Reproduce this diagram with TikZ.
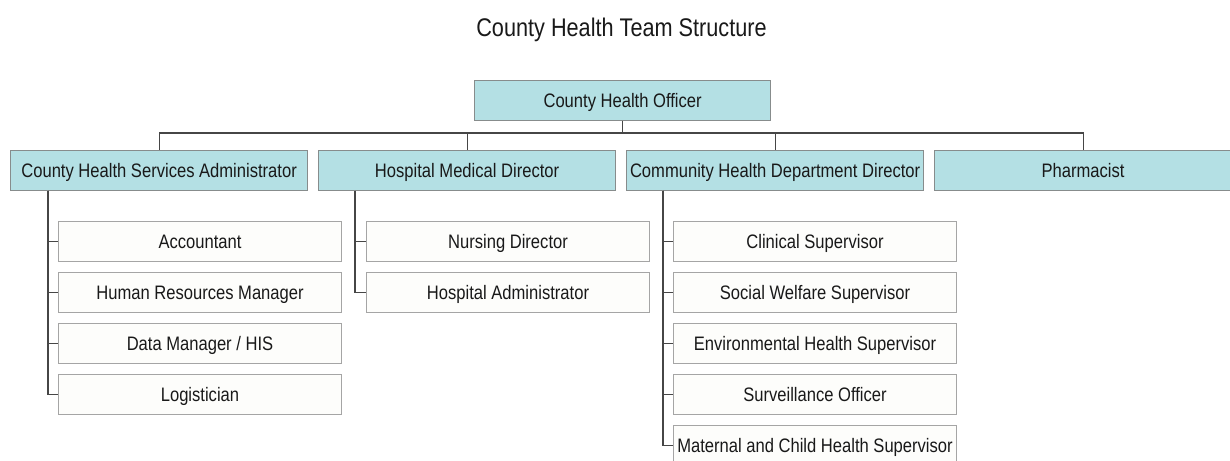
\documentclass[tikz,border=0pt]{standalone}
\usepackage{fontspec}
\setmainfont[FakeStretch=0.85]{Liberation Sans}
\definecolor{headfill}{RGB}{180,224,228}
\definecolor{headdraw}{RGB}{135,140,140}
\definecolor{subdraw}{RGB}{165,165,165}
\definecolor{subfill}{RGB}{253,253,251}
\definecolor{linec}{RGB}{70,70,70}
\definecolor{txt}{RGB}{25,25,25}
\begin{document}
\begin{tikzpicture}[x=1pt,y=-1pt,
  headbox/.style={draw=headdraw,fill=headfill,line width=1.2pt,minimum width=297pt,minimum height=40pt,inner sep=0pt,text height=14pt,text depth=0pt,anchor=north west,text=txt,font=\fontsize{19.5}{22}\selectfont},
  subbox/.style={draw=subdraw,fill=subfill,line width=1pt,minimum width=283pt,minimum height=40pt,inner sep=0pt,text height=14pt,text depth=0pt,anchor=north west,text=txt,font=\fontsize{19.5}{22}\selectfont},
  conn/.style={draw=linec,line width=1.1pt}]
\clip (0,0) rectangle (1230,460);
\useasboundingbox (0,0) rectangle (1230,460);
\fill[white] (0,0) rectangle (1230,460);
\node[text=txt,font=\fontsize{25.5}{28}\selectfont,text height=18pt,text depth=0pt] (title) at (621.5,27.5) {County Health Team Structure};
\node[headbox,minimum width=296pt] (cho) at (474,79.5) {County Health Officer};
\node[headbox] (adm) at (10,149.5) {County Health Services Administrator};
\node[headbox] (hmd) at (318,149.5) {Hospital Medical Director};
\node[headbox] (chd) at (626,149.5) {Community Health Department Director};
\node[headbox] (ph) at (934,149.5) {Pharmacist};
\coordinate (bus) at (0,133);
\draw[conn] (adm.north) -- (adm.north |- bus) -- (ph.north |- bus) -- (ph.north);
\draw[conn] (cho.south) -- (cho.south |- bus);
\draw[conn] (hmd.north) -- (hmd.north |- bus);
\draw[conn] (chd.north) -- (chd.north |- bus);
% administrator children
\node[subbox] (acc) at (58,221) {Accountant};
\node[subbox] (hr) at (58,272) {Human Resources Manager};
\node[subbox] (dm) at (58,323) {Data Manager / HIS};
\node[subbox] (lg) at (58,374) {Logistician};
\coordinate (admv) at ([xshift=38pt]adm.south west);
\foreach \n in {acc,hr,dm,lg} \draw[conn] (admv) |- (\n.west);
% hospital children
\node[subbox] (nd) at (366,221) {Nursing Director};
\node[subbox] (ha) at (366,272) {Hospital Administrator};
\coordinate (hmdv) at ([xshift=37pt]hmd.south west);
\foreach \n in {nd,ha} \draw[conn] (hmdv) |- (\n.west);
% community children
\node[subbox] (cs) at (673,221) {Clinical Supervisor};
\node[subbox] (sw) at (673,272) {Social Welfare Supervisor};
\node[subbox] (eh) at (673,323) {Environmental Health Supervisor};
\node[subbox] (so) at (673,374) {Surveillance Officer};
\node[subbox] (mc) at (673,425) {Maternal and Child Health Supervisor};
\coordinate (chdv) at ([xshift=37pt]chd.south west);
\foreach \n in {cs,sw,eh,so,mc} \draw[conn] (chdv) |- (\n.west);
\end{tikzpicture}
\end{document}
